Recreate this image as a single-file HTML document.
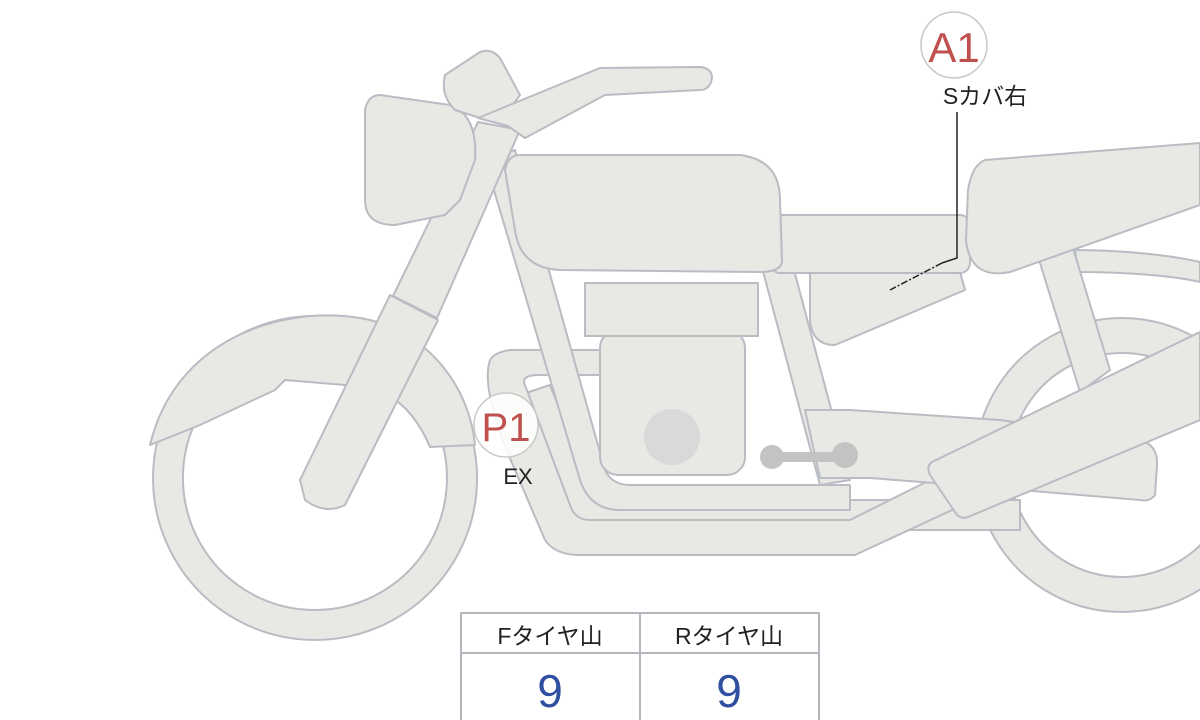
<!DOCTYPE html>
<html><head><meta charset="utf-8"><style>
html,body{margin:0;padding:0;background:#fff;width:1200px;height:720px;overflow:hidden}
svg{display:block}
text{font-family:"Liberation Sans","Noto Sans CJK JP",sans-serif}
</style></head><body>
<svg width="1200" height="720" viewBox="0 0 1200 720" xmlns="http://www.w3.org/2000/svg">
<g fill="#e8e8e5" stroke="#b9bcc3" stroke-width="2" stroke-linejoin="round">
<!-- rear wheel -->
<path fill-rule="evenodd" d="M1122,318 a147,147 0 1,0 0.1,0 Z M1122,353 a112,112 0 1,1 -0.1,0 Z"/>
<!-- front wheel -->
<path fill-rule="evenodd" d="M315,316 a162,162 0 1,0 0.1,0 Z M315,346 a132,132 0 1,1 -0.1,0 Z"/>
<!-- front fender -->
<path d="M150,445 C175,340 280,305 360,318 C430,330 470,390 475,445 L430,447 C410,400 380,385 345,385 L285,380 L275,390 L200,425 Z"/>
<!-- rear fender band -->
<path d="M1075,250 C1120,250 1170,255 1200,262 L1200,282 C1170,275 1120,272 1078,272 Z"/>
<!-- rear strut -->
<path d="M1036,250 L1072,245 L1110,370 L1080,392 Z"/>
<!-- exhaust pipes -->
<path d="M520,395 L560,505 Q570,530 600,530 L1020,530 L1020,500 L610,500 Q595,500 590,485 L550,385 Z"/>
<path d="M490,360 Q480,390 515,470 L545,540 Q555,555 580,555 L855,555 L1200,395 L1200,345 L850,520 L590,520 Q575,520 570,505 L525,385 Q520,375 540,375 L610,375 L610,350 L510,350 Q495,352 490,360 Z"/>
<!-- frame down tube -->
<path d="M485,160 L515,150 L605,470 Q612,485 630,485 L850,485 L850,510 L620,510 Q590,510 580,480 Z"/>
<!-- rear frame vertical -->
<path d="M760,260 L790,255 L850,480 L820,485 Z"/>
<!-- chain guard plate -->
<path d="M805,410 L850,410 L1000,420 L1140,440 Q1158,445 1157,465 L1155,495 Q1150,502 1140,500 L960,485 L870,478 L820,478 Z"/>
<!-- swingarm -->
<path d="M932,462 L1200,332 L1200,420 L968,517 Q960,520 955,512 L930,475 Q926,466 932,462 Z"/>
<!-- engine -->
<rect x="600" y="330" width="145" height="145" rx="18"/>
<rect x="585" y="283" width="173" height="53"/>
<circle cx="672" cy="437" r="28" fill="#d9d9d9" stroke="none"/>
<!-- footpeg -->
<path d="M772,452 L845,452 L845,462 L772,462 Z" fill="#c3c3c3" stroke="none"/>
<circle cx="772" cy="457" r="12" fill="#c3c3c3" stroke="none"/>
<circle cx="845" cy="455" r="13" fill="#c3c3c3" stroke="none"/>
<!-- side cover -->
<path d="M810,268 L960,272 L965,290 L835,345 Q812,345 810,320 Z"/>
<!-- seat -->
<rect x="770" y="215" width="200" height="58" rx="10"/>
<!-- tail -->
<path d="M985,160 L1200,143 L1200,205 L1010,272 Q970,280 966,240 L968,190 Q972,165 985,160 Z"/>
<!-- tank -->
<path d="M520,155 L740,155 Q780,160 780,200 L782,262 Q780,272 760,272 L560,270 Q520,268 515,230 L505,170 Q508,155 520,155 Z"/>
<!-- fork -->
<path d="M300,480 L390,295 L438,320 L345,505 Q325,515 305,500 Z"/>
<path d="M393,296 L478,122 L520,130 L437,318 Z"/>
<!-- headlight -->
<path d="M380,95 L450,105 Q478,115 475,160 L460,200 L445,215 L395,225 Q365,225 365,200 L365,110 Q368,95 380,95 Z"/>
<!-- gauge -->
<path d="M445,75 L480,52 Q492,48 500,58 L520,95 Q505,118 480,118 L455,110 Q440,95 445,75 Z"/>
<!-- handlebar -->
<path d="M478,118 L600,68 L700,67 Q712,68 712,78 Q710,90 700,90 L605,95 L525,138 L508,126 Z"/>
</g>
<!-- leader -->
<polyline points="957,112 957,258 942,263" fill="none" stroke="#222" stroke-width="1.5"/>
<line x1="942" y1="263" x2="890" y2="290" stroke="#222" stroke-width="1.5" stroke-dasharray="7,2,2,2"/>
<!-- markers -->
<circle cx="506" cy="425" r="32" fill="#fff" fill-opacity="0.85" stroke="#c8c8c8" stroke-width="1.5"/>
<text x="506" y="441" font-size="40" fill="#c0504d" text-anchor="middle">P1</text>
<text x="518" y="484" font-size="22" fill="#222" text-anchor="middle">EX</text>
<circle cx="954" cy="45" r="33" fill="#fff" stroke="#c8c8c8" stroke-width="1.5"/>
<text x="954" y="62" font-size="42" fill="#c0504d" text-anchor="middle">A1</text>
<text x="985" y="104" font-size="23" fill="#222" text-anchor="middle">Sカバ右</text>
<!-- table -->
<g fill="#fff" stroke="#b3b6bd" stroke-width="2">
<rect x="461" y="613" width="358" height="110"/>
<line x1="461" y1="653" x2="819" y2="653"/>
<line x1="640" y1="613" x2="640" y2="720"/>
</g>
<text x="550" y="644" font-size="23" fill="#222" text-anchor="middle">Fタイヤ山</text>
<text x="729" y="644" font-size="23" fill="#222" text-anchor="middle">Rタイヤ山</text>
<text x="550" y="707" font-size="46" fill="#2f4fa0" text-anchor="middle">9</text>
<text x="729" y="707" font-size="46" fill="#2f4fa0" text-anchor="middle">9</text>
</svg>
</body></html>
